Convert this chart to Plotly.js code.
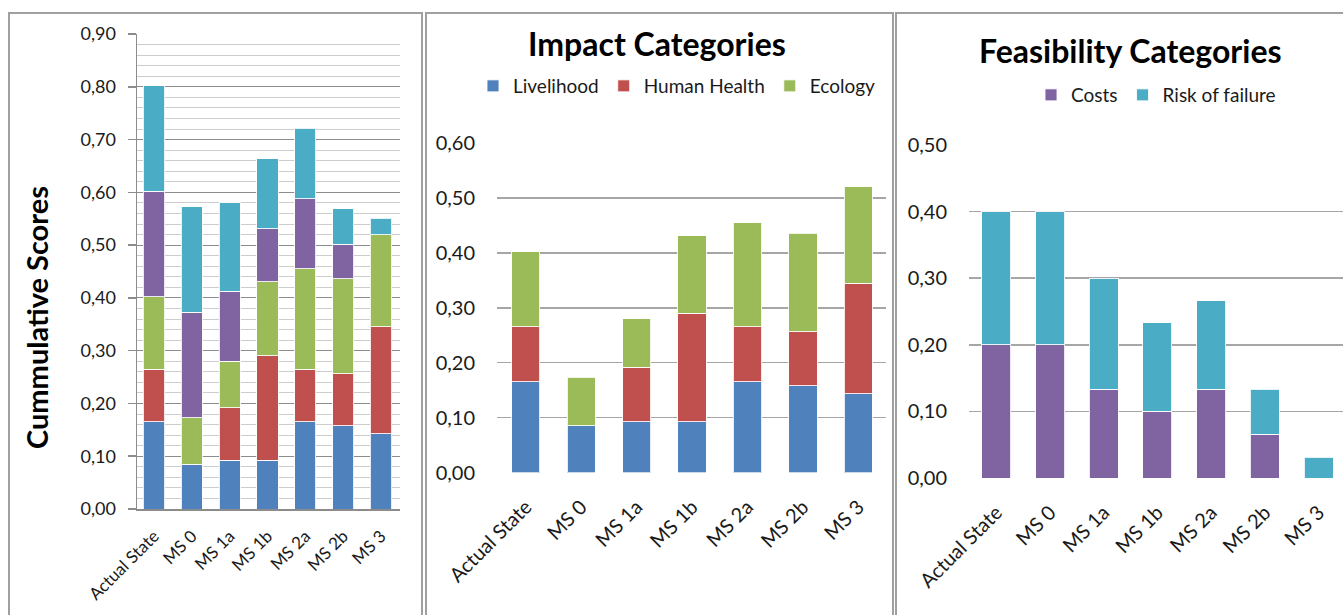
<!DOCTYPE html>
<html>
<head>
<meta charset="utf-8">
<script src="https://cdn.plot.ly/plotly-3.0.1.min.js"></script>
<style>
html,body{margin:0;padding:0;background:#fff;}
#chart{width:1343px;height:615px;}
</style>
</head>
<body>
<div id="chart"></div>
<script>
const categories = ["Actual State", "MS 0", "MS 1a", "MS 1b", "MS 2a", "MS 2b", "MS 3"];
const livelihood = [0.165, 0.085, 0.092, 0.092, 0.165, 0.158, 0.143];
const humanHealth = [0.100, 0.000, 0.100, 0.198, 0.100, 0.098, 0.202];
const ecology = [0.137, 0.088, 0.088, 0.141, 0.190, 0.180, 0.175];
const costs = [0.200, 0.200, 0.133, 0.100, 0.133, 0.066, 0.000];
const riskOfFailure = [0.200, 0.200, 0.167, 0.133, 0.133, 0.067, 0.031];

const seriesNames = ["Livelihood", "Human Health", "Ecology", "Costs", "Risk of failure"];
const seriesValues = [livelihood, humanHealth, ecology, costs, riskOfFailure];
const seriesColors = ["#4F81BD", "#C0504D", "#9BBB59", "#8064A2", "#4BACC6"];

const FONT = "Lato, 'Open Sans', sans-serif";
const W = 1343, H = 615;
const px = v => v / W;
const py = v => 1 - v / H;

const traces = [];
const edge = {color: "rgba(255,255,255,0.85)", width: 1};
// Panel 1: cumulative (all five series)
seriesNames.forEach((n, i) => {
  traces.push({type: "bar", x: categories, y: seriesValues[i], name: n,
    marker: {color: seriesColors[i], line: edge}, width: 0.56,
    xaxis: "x", yaxis: "y", showlegend: false, hoverinfo: "x+y+name"});
});
// Panel 2: impact
[0, 1, 2].forEach(i => {
  traces.push({type: "bar", x: categories, y: seriesValues[i], name: seriesNames[i],
    marker: {color: seriesColors[i], line: edge}, width: 0.51,
    xaxis: "x2", yaxis: "y2", legend: "legend"});
});
// Panel 3: feasibility
[3, 4].forEach(i => {
  traces.push({type: "bar", x: categories, y: seriesValues[i], name: seriesNames[i],
    marker: {color: seriesColors[i], line: edge}, width: 0.54,
    xaxis: "x3", yaxis: "y3", legend: "legend2"});
});

const tickFontSmall = {family: FONT, size: 18, color: "#1a1a1a"};
const tickFontBig = {family: FONT, size: 20, color: "#1a1a1a"};

const layout = {
  width: W, height: H,
  margin: {l: 0, r: 0, t: 0, b: 0},
  paper_bgcolor: "#fff", plot_bgcolor: "rgba(0,0,0,0)",
  barmode: "stack",
  separators: ",.",
  font: {family: FONT, color: "#1a1a1a"},
  xaxis: {domain: [px(137), px(400)], anchor: "y", type: "category", range: [-0.45, 6.5],
    showline: true, linecolor: "#8c8c8c", linewidth: 1.5, ticks: "", tickangle: -45,
    tickfont: {family: FONT, size: 17, color: "#1a1a1a"}, ticklabelstandoff: 9, showgrid: false, fixedrange: true},
  yaxis: {domain: [1 - 509 / H, 1 - 34 / H], anchor: "x", range: [0, 0.9], dtick: 0.1, tickformat: ".2f",
    showline: true, linecolor: "#8c8c8c", linewidth: 1.5, ticks: "outside", ticklen: 8, tickcolor: "#8c8c8c", tickwidth: 1.5,
    showgrid: true, gridcolor: "#8c8c8c", gridwidth: 1.2, zeroline: false,
    minor: {dtick: 0.02, showgrid: true, gridcolor: "#cdcdcd", gridwidth: 1},
    tickfont: tickFontSmall, ticklabelstandoff: 8, fixedrange: true},
  xaxis2: {domain: [px(497), px(886)], anchor: "y2", type: "category", range: [-0.52, 6.5],
    showline: false, ticks: "", tickangle: -45, tickfont: tickFontBig, ticklabelstandoff: 18, showgrid: false, fixedrange: true},
  yaxis2: {domain: [1 - 472.5 / H, 1 - 143 / H], anchor: "x2", range: [0, 0.6], dtick: 0.1, tickformat: ".2f",
    showline: false, ticks: "", showgrid: true, gridcolor: "#a6a6a6", gridwidth: 1.6, zeroline: false,
    tickfont: tickFontBig, ticklabelstandoff: 21, fixedrange: true},
  xaxis3: {domain: [px(969), 1], anchor: "y3", type: "category", range: [-0.51, 6.456],
    showline: false, ticks: "", tickangle: -45, tickfont: tickFontBig, ticklabelstandoff: 18, showgrid: false, fixedrange: true},
  yaxis3: {domain: [1 - 478 / H, 1 - 145 / H], anchor: "x3", range: [0, 0.5], dtick: 0.1, tickformat: ".2f",
    showline: false, ticks: "", showgrid: true, gridcolor: "#a6a6a6", gridwidth: 1.6, zeroline: false,
    tickfont: tickFontBig, ticklabelstandoff: 21, fixedrange: true},
  legend: {orientation: "h", x: px(677), y: py(86), xanchor: "center", yanchor: "middle",
    font: {family: FONT, size: 19, color: "#1a1a1a"}, itemwidth: 30, bgcolor: "rgba(0,0,0,0)", traceorder: "normal"},
  legend2: {orientation: "h", x: px(1156), y: py(95), xanchor: "center", yanchor: "middle",
    font: {family: FONT, size: 19, color: "#1a1a1a"}, itemwidth: 30, bgcolor: "rgba(0,0,0,0)", traceorder: "normal"},
  annotations: [
    {text: "<b>Impact Categories</b>", xref: "paper", yref: "paper", x: px(657), y: py(43),
      xanchor: "center", yanchor: "middle", showarrow: false, font: {family: FONT, size: 32, color: "#000"}},
    {text: "<b>Feasibility Categories</b>", xref: "paper", yref: "paper", x: px(1130), y: py(50),
      xanchor: "center", yanchor: "middle", showarrow: false, font: {family: FONT, size: 32, color: "#000"}},
    {text: "<b>Cummulative Scores</b>", xref: "paper", yref: "paper", x: px(36), y: py(318),
      xanchor: "center", yanchor: "middle", textangle: -90, showarrow: false, font: {family: FONT, size: 29, color: "#000"}}
  ],
  shapes: [
    {type: "rect", xref: "paper", yref: "paper", x0: px(9), x1: px(422), y0: -0.05, y1: py(13), line: {color: "#a0a0a0", width: 2}},
    {type: "rect", xref: "paper", yref: "paper", x0: px(426), x1: px(893), y0: -0.05, y1: py(13), line: {color: "#a0a0a0", width: 2}},
    {type: "rect", xref: "paper", yref: "paper", x0: px(896), x1: 1.05, y0: -0.05, y1: py(13), line: {color: "#a0a0a0", width: 2}}
  ]
};

Plotly.newPlot("chart", traces, layout, {displayModeBar: false, staticPlot: true});
</script>
</body>
</html>
